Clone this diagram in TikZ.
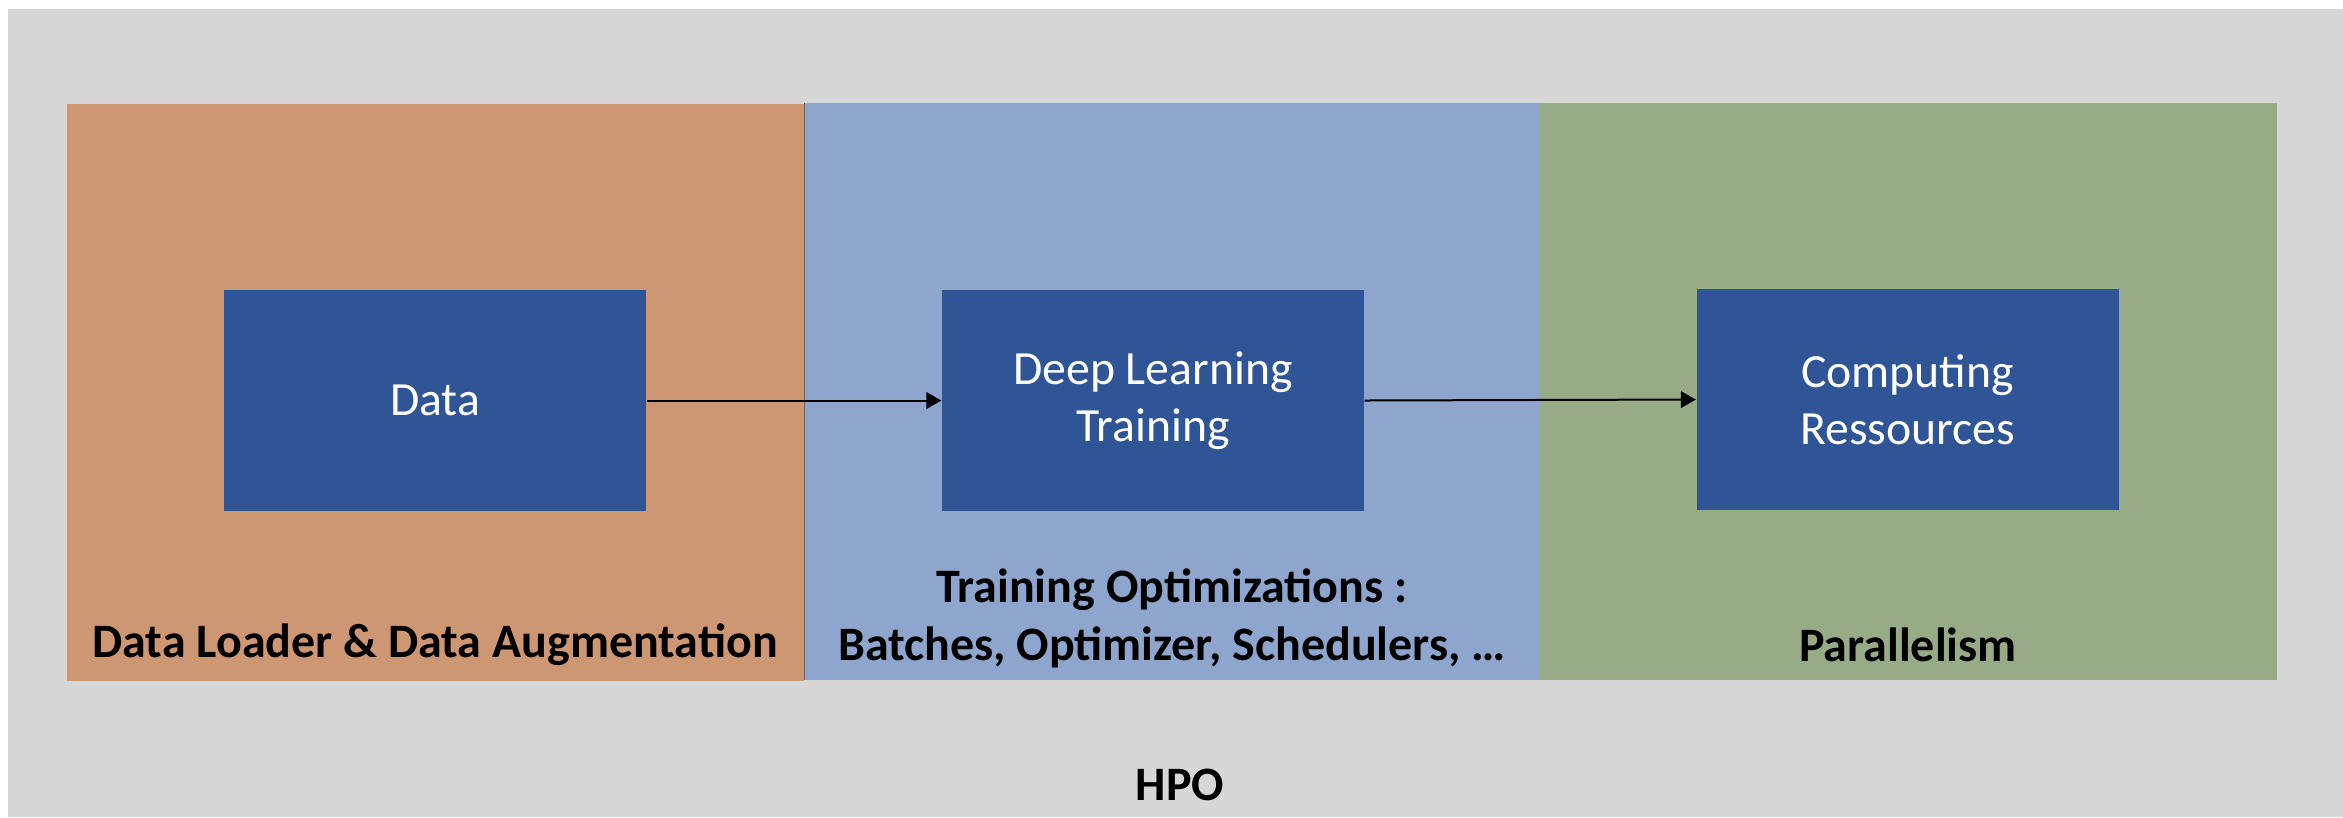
\documentclass[tikz,border=0pt]{standalone}
\usepackage{fontspec}
\setmainfont{Carlito}
\usetikzlibrary{arrows.meta}
\definecolor{hpogray}{RGB}{215,215,215}
\definecolor{loaderorange}{RGB}{206,151,116}
\definecolor{trainblue}{RGB}{142,166,206}
\definecolor{resgreen}{RGB}{151,172,134}
\definecolor{boxblue}{RGB}{47,85,151}
\begin{document}
\begin{tikzpicture}[x=0.3pt,y=0.3pt,yscale=-1,xscale=1,
  block/.style={fill=boxblue,text=white,minimum width=126.6pt,minimum height=66.3pt,inner sep=0pt,align=center,font=\fontsize{14.3}{17.2}\selectfont},
  paneltext/.style={align=center,inner sep=0pt,font=\bfseries\fontsize{14.4}{17.4}\selectfont},
  flow/.style={-{Triangle[length=4.5pt,width=5pt]},line width=0.6pt}]
\useasboundingbox (0,0) rectangle (2343,817);

%Shape: Rectangle [HPO background]
\fill[hpogray] (8,9) rectangle (2343,817);
%Shape: Rectangle [data loader panel]
\fill[loaderorange] (67,104) rectangle (804,681);
%Shape: Rectangle [training panel]
\fill[trainblue] (804,103) rectangle (1540,680);
\draw[trainblue!60!black,line width=0.3pt] (804,103) -- (804,680);
%Shape: Rectangle [parallelism panel]
\fill[resgreen] (1540,103) rectangle (2277,680);

% Blocks
\node[block] (data) at (435,400.5) {Data};
\node[block] (dltrain) at (1153,400.5) {Deep Learning\\Training};
\node[block] (compute) at (1907.5,399.5) {Computing\\Ressources};

% Straight Lines
\draw[flow] (data.east) -- (dltrain.west);
\draw[flow] (dltrain.east) -- (compute.west);

% Text Node
\node[paneltext] (loader) at (435,645) {Data Loader \& Data Augmentation};
% Text Node
\node[paneltext] (optim) at (1172,618) {Training Optimizations :\\Batches, Optimizer, Schedulers, …};
% Text Node
\node[paneltext] (parallel) at (1908,645) {Parallelism};
% Text Node
\node[paneltext] (hpo) at (1180,785) {HPO};
\end{tikzpicture}
\end{document}
